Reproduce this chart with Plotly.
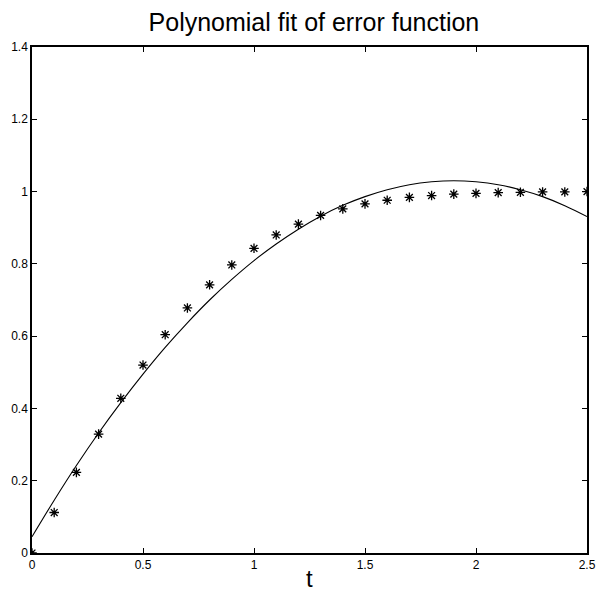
import plotly.graph_objects as go

t = [0.0, 0.1, 0.2, 0.3, 0.4, 0.5, 0.6, 0.7, 0.8, 0.9, 1.0, 1.1, 1.2,
     1.3, 1.4, 1.5, 1.6, 1.7, 1.8, 1.9, 2.0, 2.1, 2.2, 2.3, 2.4, 2.5]
y_data = [0.000, 0.112, 0.223, 0.329, 0.428, 0.520, 0.604, 0.678, 0.742,
          0.797, 0.843, 0.880, 0.910, 0.934, 0.952, 0.966, 0.976, 0.984,
          0.989, 0.993, 0.995, 0.997, 0.998, 0.999, 0.999, 1.000]
y_fit = [0.045, 0.146, 0.242, 0.332, 0.416, 0.495, 0.569, 0.637, 0.700,
         0.757, 0.809, 0.855, 0.896, 0.932, 0.962, 0.986, 1.005, 1.019,
         1.027, 1.030, 1.027, 1.019, 1.005, 0.986, 0.961, 0.931]

x_ticks = [0, 0.5, 1, 1.5, 2, 2.5]
x_tick_labels = ["0", "0.5", "1", "1.5", "2", "2.5"]
y_ticks = [0, 0.2, 0.4, 0.6, 0.8, 1, 1.2, 1.4]
y_tick_labels = ["0", "0.2", "0.4", "0.6", "0.8", "1", "1.2", "1.4"]

font_family = "Liberation Sans, Arial, Helvetica, sans-serif"

fig = go.Figure()
fig.add_trace(go.Scatter(x=t, y=y_data, mode="markers",
                         marker=dict(symbol="asterisk-open", size=8, color="black",
                                     line=dict(color="black", width=1.3)),
                         showlegend=False))
fig.add_trace(go.Scatter(x=t, y=y_fit, mode="lines", line_shape="spline",
                         line=dict(color="black", width=1.1), showlegend=False))

axis_common = dict(showgrid=False, zeroline=False, showline=True, linecolor="black",
                   linewidth=1.5, mirror="ticks", ticks="inside", ticklen=5,
                   tickcolor="black", tickwidth=1,
                   tickfont=dict(family=font_family, size=12, color="black"))

fig.update_layout(
    width=606, height=599,
    margin=dict(l=32, r=10, t=47, b=46),
    paper_bgcolor="white", plot_bgcolor="white",
    title=dict(text="Polynomial fit of error function", x=0.518, xanchor="center",
               y=0.963, yanchor="middle",
               font=dict(family=font_family, size=25, color="black")),
    xaxis=dict(range=[0, 2.5], tickvals=x_ticks, ticktext=x_tick_labels, **axis_common),
    yaxis=dict(range=[0, 1.4], tickvals=y_ticks, ticktext=y_tick_labels, **axis_common),
    annotations=[dict(text="t", xref="paper", yref="paper", x=0.5, y=-0.051,
                      xanchor="center", yanchor="middle", showarrow=False,
                      font=dict(family=font_family, size=24, color="black"))],
)

fig.write_html("out.html")
